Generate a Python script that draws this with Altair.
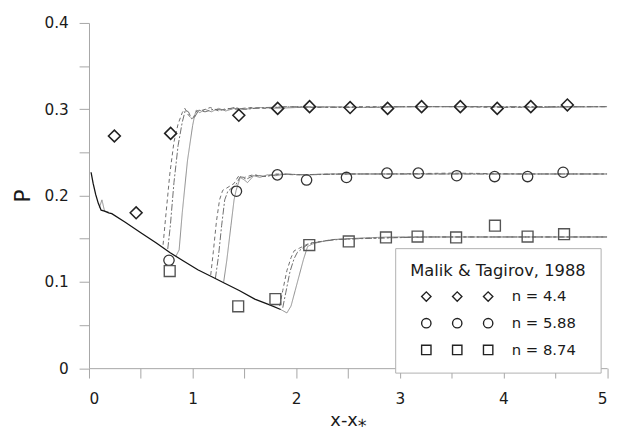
import altair as alt
import pandas as pd

FONT = "DejaVu Sans"

# ---------------- experimental points (Malik & Tagirov, 1988) ----------------
dia_x = [0.245, 0.455, 0.788, 1.446, 1.821, 2.129, 2.52, 2.882, 3.21, 3.584, 3.94, 4.264, 4.617]
dia_y = [0.269, 0.180, 0.272, 0.293, 0.301, 0.303, 0.302, 0.301, 0.303, 0.303, 0.301, 0.303, 0.305]
cir_x = [0.772, 1.423, 1.818, 2.10, 2.485, 2.876, 3.178, 3.549, 3.915, 4.233, 4.576]
cir_y = [0.125, 0.205, 0.224, 0.218, 0.221, 0.226, 0.226, 0.223, 0.222, 0.222, 0.227]
sq_x = [0.779, 1.44, 1.799, 2.126, 2.507, 2.866, 3.171, 3.543, 3.918, 4.233, 4.585]
sq_y = [0.1125, 0.0717, 0.0801, 0.1426, 0.1468, 0.1514, 0.1525, 0.1514, 0.1651, 0.1525, 0.1552]

leg_labels = ["n = 4.4", "n = 5.88", "n = 8.74"]

# ---------------- computed curves ----------------
# common decaying branch (black)
base_x = [0.02, 0.04, 0.065, 0.09, 0.117, 0.15, 0.19, 0.22, 0.35, 0.5, 0.65, 0.78, 0.9, 1.05, 1.2, 1.3, 1.45, 1.6, 1.75, 1.85]
base_y = [0.227, 0.214, 0.201, 0.191, 0.183, 0.182, 0.180, 0.179, 0.169, 0.157, 0.145, 0.134, 0.125, 0.114, 0.105, 0.099, 0.090, 0.080, 0.073, 0.068]

# small wiggle near the start (grey)
wig_x = [0.10, 0.125, 0.15, 0.19]
wig_y = [0.186, 0.195, 0.182, 0.181]

# n = 4.4
s44_solid_x = [0.84, 0.87, 0.90, 0.95, 1.00, 1.02, 1.035, 1.07, 1.12, 1.18, 1.25, 1.32, 1.40, 1.50, 1.65, 1.80, 2.0, 2.3, 2.7, 3.2, 3.8, 4.4, 5.0]
s44_solid_y = [0.130, 0.137, 0.180, 0.240, 0.281, 0.293, 0.299, 0.296, 0.300, 0.297, 0.301, 0.298, 0.301, 0.300, 0.302, 0.301, 0.302, 0.303, 0.302, 0.303, 0.303, 0.302, 0.303]
s44_dash_x = [0.715, 0.74, 0.78, 0.82, 0.86, 0.90, 0.925, 0.96, 1.0, 1.04, 1.1, 1.17, 1.25, 1.33, 1.42, 1.55, 1.7, 1.9, 2.2, 2.6, 3.0, 3.5, 4.0, 4.5, 5.0]
s44_dash_y = [0.143, 0.175, 0.225, 0.262, 0.283, 0.296, 0.301, 0.293, 0.289, 0.298, 0.299, 0.302, 0.298, 0.301, 0.300, 0.302, 0.301, 0.303, 0.302, 0.303, 0.303, 0.303, 0.302, 0.303, 0.303]
s44_dd_x = [0.76, 0.785, 0.82, 0.86, 0.90, 0.93, 0.96, 0.99, 1.02, 1.06, 1.12, 1.2, 1.3, 1.4, 1.5, 1.7, 2.0, 2.5, 3.0, 3.5, 4.0, 4.5, 5.0]
s44_dd_y = [0.138, 0.165, 0.215, 0.258, 0.285, 0.299, 0.297, 0.289, 0.291, 0.299, 0.297, 0.300, 0.299, 0.302, 0.300, 0.302, 0.303, 0.302, 0.303, 0.303, 0.303, 0.303, 0.303]

# n = 5.88
s58_solid_x = [1.30, 1.33, 1.37, 1.40, 1.42, 1.46, 1.50, 1.53, 1.59, 1.65, 1.72, 1.80, 1.90, 2.05, 2.3, 2.7, 3.2, 3.8, 4.4, 5.0]
s58_solid_y = [0.100, 0.125, 0.165, 0.195, 0.206, 0.221, 0.218, 0.215, 0.223, 0.221, 0.224, 0.223, 0.225, 0.224, 0.225, 0.225, 0.225, 0.225, 0.225, 0.225]
s58_dash_x = [1.175, 1.20, 1.23, 1.26, 1.29, 1.32, 1.36, 1.40, 1.44, 1.50, 1.58, 1.68, 1.80, 2.0, 2.4, 2.9, 3.5, 4.2, 5.0]
s58_dash_y = [0.108, 0.135, 0.170, 0.195, 0.206, 0.208, 0.211, 0.214, 0.222, 0.221, 0.224, 0.222, 0.225, 0.224, 0.225, 0.225, 0.226, 0.225, 0.225]
s58_dd_x = [1.22, 1.25, 1.28, 1.31, 1.34, 1.38, 1.42, 1.46, 1.52, 1.60, 1.70, 1.85, 2.1, 2.5, 3.0, 3.6, 4.3, 5.0]
s58_dd_y = [0.104, 0.130, 0.165, 0.195, 0.205, 0.209, 0.213, 0.222, 0.219, 0.224, 0.222, 0.225, 0.224, 0.225, 0.225, 0.225, 0.225, 0.225]

# n = 8.74
s87_solid_x = [1.85, 1.91, 1.95, 1.99, 2.03, 2.07, 2.11, 2.16, 2.22, 2.35, 2.5, 2.67, 2.9, 3.3, 3.8, 4.4, 5.0]
s87_solid_y = [0.068, 0.064, 0.072, 0.090, 0.108, 0.126, 0.141, 0.144, 0.146, 0.149, 0.150, 0.151, 0.152, 0.152, 0.152, 0.152, 0.152]
s87_dash_x = [1.84, 1.87, 1.91, 1.95, 1.98, 2.03, 2.08, 2.13, 2.2, 2.35, 2.55, 2.8, 3.2, 3.7, 4.3, 5.0]
s87_dash_y = [0.072, 0.090, 0.113, 0.128, 0.136, 0.139, 0.142, 0.145, 0.146, 0.149, 0.150, 0.151, 0.152, 0.152, 0.152, 0.152]
s87_dd_x = [1.87, 1.90, 1.94, 1.98, 2.01, 2.06, 2.11, 2.16, 2.25, 2.4, 2.6, 2.9, 3.3, 3.8, 4.4, 5.0]
s87_dd_y = [0.070, 0.088, 0.112, 0.127, 0.134, 0.139, 0.143, 0.145, 0.147, 0.149, 0.150, 0.151, 0.152, 0.152, 0.152, 0.152]

x_ticks = [0, 0.5, 1, 1.5, 2, 2.5, 3, 3.5, 4, 4.5, 5]
y_ticks = [0, 0.05, 0.1, 0.15, 0.2, 0.25, 0.3, 0.35, 0.4]


def frame(xs, ys, **kw):
    d = pd.DataFrame({"x": xs, "y": ys})
    d["i"] = range(len(xs))
    for k, v in kw.items():
        d[k] = v
    return d


sims = [
    ("wiggle", "solid", wig_x, wig_y),
    ("n44_solid", "solid", s44_solid_x, s44_solid_y),
    ("n44_dash", "dashed", s44_dash_x, s44_dash_y),
    ("n44_dd", "dashdot", s44_dd_x, s44_dd_y),
    ("n58_solid", "solid", s58_solid_x, s58_solid_y),
    ("n58_dash", "dashed", s58_dash_x, s58_dash_y),
    ("n58_dd", "dashdot", s58_dd_x, s58_dd_y),
    ("n87_solid", "solid", s87_solid_x, s87_solid_y),
    ("n87_dash", "dashed", s87_dash_x, s87_dash_y),
    ("n87_dd", "dashdot", s87_dd_x, s87_dd_y),
]
lines_df = pd.concat([frame(xs, ys, line=n, style=s) for n, s, xs, ys in sims], ignore_index=True)
base_df = frame(base_x, base_y)
dia_df = frame(dia_x, dia_y)
cir_df = frame(cir_x, cir_y)
sq_df = frame(sq_x, sq_y)

x_enc = alt.X(
    "x:Q",
    scale=alt.Scale(domain=[0, 5], nice=False, zero=False),
    axis=alt.Axis(
        values=x_ticks,
        labelExpr="datum.value % 1 == 0 ? format(datum.value, '~g') : ''",
        title="x-x\u204e",
        titlePadding=5,
        labelPadding=14,
    ),
)
y_enc = alt.Y(
    "y:Q",
    scale=alt.Scale(domain=[0, 0.4], nice=False),
    axis=alt.Axis(
        values=y_ticks,
        labelExpr="abs(datum.value * 10 - round(datum.value * 10)) < 0.001 ? format(datum.value, '~g') : ''",
        title="P",
        titleX=-67,
        titleY=174.75,
        titleBaseline="middle",
        titleFontSize=22,
        labelPadding=11,
    ),
)

sim = alt.Chart(lines_df).mark_line(strokeWidth=1).encode(
    x=x_enc,
    y=y_enc,
    detail="line:N",
    order="i:Q",
    strokeDash=alt.StrokeDash(
        "style:N",
        scale=alt.Scale(domain=["solid", "dashed", "dashdot"], range=[[1, 0], [4, 3], [7, 2, 2, 2]]),
        legend=None,
    ),
    color=alt.Color(
        "style:N",
        scale=alt.Scale(domain=["solid", "dashed", "dashdot"], range=["#8c8c8c", "#6e6e6e", "#6e6e6e"]),
        legend=None,
    ),
)

base = alt.Chart(base_df).mark_line(color="#141414", strokeWidth=1.3).encode(x=x_enc, y=y_enc, order="i:Q")

dia = alt.Chart(dia_df).mark_point(shape="diamond", size=144, filled=False, color="#222222",
                                   strokeWidth=1.6, opacity=1).encode(x=x_enc, y=y_enc)
cir = alt.Chart(cir_df).mark_point(shape="circle", size=110, filled=False, color="#333333",
                                   strokeWidth=1.3, opacity=1).encode(x=x_enc, y=y_enc)
sq = alt.Chart(sq_df).mark_point(shape="square", size=121, filled=False, color="#555555",
                                 strokeWidth=1.4, opacity=1).encode(x=x_enc, y=y_enc)

# legend glyphs: three copies of each marker side by side
centers = [0, 6.6, 13.2]
diamond_path = "".join(f"M{c-1},0L{c},-1L{c+1},0L{c},1Z" for c in centers)
circle_path = "".join(f"M{c+1},0A1,1,0,1,1,{c-1},0A1,1,0,1,1,{c+1},0Z" for c in centers)
square_path = "".join(f"M{c-1},-1L{c+1},-1L{c+1},1L{c-1},1Z" for c in centers)

leg_df = pd.DataFrame({"series": leg_labels, "x": [dia_x[0], cir_x[0], sq_x[0]], "y": [dia_y[0], cir_y[0], sq_y[0]]})
legend_layer = alt.Chart(leg_df).mark_point(filled=False, opacity=0, color="#222222").encode(
    x=x_enc,
    y=y_enc,
    shape=alt.Shape(
        "series:N",
        scale=alt.Scale(domain=leg_labels, range=[diamond_path, circle_path, square_path]),
        legend=alt.Legend(
            title="Malik & Tagirov, 1988",
            orient="none",
            legendX=310,
            legendY=228,
            direction="vertical",
            symbolSize=90,
            symbolStrokeWidth=1.4,
            symbolStrokeColor="#222222",
            symbolFillColor="transparent",
            symbolOpacity=1,
            symbolOffset=-1,
            labelFont=FONT,
            labelFontSize=15,
            labelColor="#1a1a1a",
            labelOffset=79,
            titleFont=FONT,
            titleFontSize=16.5,
            titleFontWeight="normal",
            titleColor="#1a1a1a",
            titleAnchor="middle",
            titlePadding=10,
            rowPadding=10,
            padding=15,
            strokeColor="#b0b0b0",
            fillColor="white",
            cornerRadius=0,
        ),
    ),
)

chart = (
    alt.layer(sim, base, dia, cir, sq, legend_layer)
    .properties(
        width=524.5,
        height=349.5,
        padding={"left": 82, "top": 12.5, "right": 5, "bottom": 62},
        autosize=alt.AutoSizeParams(type="none"),
        background="white",
    )
    .configure_view(stroke=None)
    .configure_axis(
        grid=False,
        domainColor="#a6a6a6",
        tickColor="#a6a6a6",
        tickSize=10,
        labelFont=FONT,
        labelFontSize=15.5,
        labelColor="#1a1a1a",
        titleFont=FONT,
        titleFontSize=18,
        titleFontWeight="normal",
        titleColor="#1a1a1a",
    )
)

chart.save("out.html", embed_options={"renderer": "svg", "actions": False})
